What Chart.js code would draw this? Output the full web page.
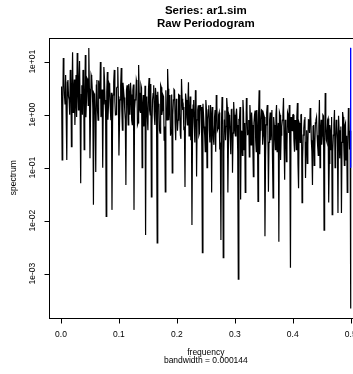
<!DOCTYPE html>
<html>
<head>
<meta charset="utf-8">
<title>Raw Periodogram</title>
<script src="https://cdn.jsdelivr.net/npm/chart.js@4.4.0/dist/chart.umd.min.js"></script>
<style>
  html, body { margin: 0; padding: 0; background: #fff; overflow: hidden; }
  #wrap { width: 353px; height: 374px; overflow: hidden; }
  canvas { display: block; }
</style>
</head>
<body>
<div id="wrap"><canvas id="pgram" width="370" height="374"></canvas></div>
<script>
// Periodograma: picos/vales nas frequências pares (0.002, 0.004, ... 0.5)
const freqStep = 0.002;
const spec = [
  0.14, 11.7, 2.35, 5.6, 0.14, 4.5, 1.9, 7.0, 0.25, 15,
  2.9, 0.64, 5.6, 14.6, 1.23, 10.3, 0.051, 3.6, 7.0, 0.22,
  13.4, 1.9, 4.5, 18.2, 0.15, 5.6, 2.9, 0.020, 2.35, 0.083,
  4.5, 0.79, 2.9, 9.9, 1.23, 0.10, 7.9, 1.9, 0.012, 6.4,
  1.52, 3.6, 0.79, 0.016, 2.35, 7.0, 0.99, 3.2, 7.9, 0.17,
  1.9, 7.6, 0.51, 2.9, 1.23, 0.047, 3.6, 0.64, 2.35, 4.0,
  0.79, 2.9, 0.016, 1.9, 4.5, 0.64, 8.7, 1.23, 3.6, 0.10,
  2.35, 0.79, 0.0054, 1.9, 0.51, 4.9, 0.99, 0.028, 1.9, 3.6,
  0.64, 2.35, 0.0038, 1.52, 0.51, 3.6, 0.99, 2.35, 0.33, 0.035,
  1.23, 7.3, 0.79, 2.35, 0.51, 0.080, 1.9, 2.9, 0.33, 1.52,
  0.79, 2.35, 0.41, 4.7, 1.23, 0.51, 0.043, 1.9, 0.64, 4.1,
  0.99, 0.33, 0.0083, 1.52, 0.64, 2.9, 0.068, 1.23, 0.41, 1.52,
  1.40, 0.0025, 0.99, 0.41, 1.9, 0.10, 1.23, 0.51, 1.52, 0.034,
  0.64, 0.27, 1.23, 2.35, 0.51, 0.99, 0.22, 0.0043, 2.16, 0.0020,
  0.79, 0.33, 2.07, 0.034, 0.99, 0.41, 1.23, 0.080, 1.74, 0.51,
  0.99, 0.64, 0.00079, 0.79, 0.025, 0.33, 1.9, 0.22, 0.034, 2.07,
  0.41, 0.79, 1.52, 0.27, 0.64, 0.068, 0.99, 0.33, 1.23, 0.023,
  2.9, 0.51, 1.23, 0.27, 0.99, 0.0051, 0.64, 1.52, 0.035, 0.79,
  0.33, 1.23, 0.027, 0.64, 0.22, 1.52, 0.51, 0.0040, 0.99, 0.41,
  0.79, 2.07, 0.059, 0.64, 0.27, 0.99, 1.52, 0.0013, 0.51, 0.99,
  0.33, 0.79, 0.22, 1.66, 0.041, 0.64, 0.99, 0.022, 0.41, 0.79,
  0.064, 0.51, 0.27, 0.79, 1.34, 0.33, 0.047, 0.64, 0.22, 0.79,
  0.41, 0.17, 1.9, 0.51, 0.27, 0.99, 0.0066, 2.56, 0.33, 0.79,
  0.022, 0.64, 0.22, 0.013, 0.41, 1.23, 0.22, 0.64, 0.014, 0.51,
  0.33, 0.014, 1.12, 0.27, 0.64, 0.14, 0.034, 1.34, 0.22, 0.00022
];
// Valores da faixa densa nas frequências ímpares (0.001, 0.003, ... 0.499)
const specBand = [
  3.4, 1.2, 5.2, 1.6, 0.95, 4.1, 2.2, 1.0, 5.5, 2.6,
  1.1, 4.6, 1.8, 0.9, 3.2, 5.0, 1.4, 2.4, 1.0, 4.3,
  2.0, 0.9, 4.8, 1.5, 3.1, 1.0, 5.0, 1.3, 2.5, 0.95,
  3.6, 1.2, 4.4, 2.0, 0.9, 3.0, 1.6, 4.9, 1.1, 2.7,
  0.8, 3.9, 1.4, 2.6, 0.75, 4.2, 1.8, 1.0, 3.3, 2.2,
  0.7, 3.6, 1.2, 4.0, 2.1, 0.8, 2.9, 1.5, 3.8, 1.0,
  2.4, 0.65, 3.7, 1.3, 2.0, 3.9, 0.7, 2.6, 1.1, 3.2,
  1.5, 0.6, 3.5, 2.2, 0.9, 3.0, 1.2, 3.8, 0.65, 2.5,
  1.0, 3.2, 0.5, 2.7, 1.6, 0.45, 3.3, 1.2, 2.2, 0.6,
  2.9, 0.8, 3.1, 1.4, 0.4, 2.4, 1.0, 3.0, 0.7, 2.0,
  0.5, 2.4, 1.1, 0.35, 2.0, 1.4, 0.6, 2.5, 0.9, 1.7,
  0.4, 2.2, 1.3, 0.5, 1.9, 0.3, 2.4, 0.8, 1.5, 0.45,
  1.2, 0.25, 1.6, 0.6, 0.2, 1.3, 0.8, 1.5, 0.3, 1.0,
  1.4, 0.35, 0.9, 0.2, 1.5, 0.55, 1.1, 0.25, 0.7, 1.3,
  0.2, 1.2, 0.6, 1.4, 0.3, 0.9, 0.18, 1.3, 0.45, 1.0,
  0.4, 1.3, 0.2, 0.8, 1.4, 0.5, 0.17, 1.1, 0.7, 0.3,
  1.2, 0.5, 0.16, 0.9, 1.1, 0.3, 0.7, 1.2, 0.2, 0.6,
  1.0, 0.18, 0.8, 1.2, 0.4, 0.9, 0.15, 1.1, 0.6, 0.3,
  1.1, 0.5, 0.15, 0.9, 0.35, 1.0, 0.2, 0.7, 1.1, 0.14,
  0.6, 1.0, 0.3, 0.8, 0.13, 1.1, 0.45, 0.2, 0.9, 0.5,
  1.0, 0.2, 0.6, 0.9, 0.12, 0.7, 0.3, 1.0, 0.15, 0.55,
  0.9, 0.3, 0.12, 0.8, 0.45, 1.0, 0.2, 0.6, 0.11, 0.7,
  0.9, 0.25, 0.6, 0.1, 0.8, 0.4, 0.95, 0.15, 0.7, 0.3,
  0.85, 0.12, 0.5, 0.9, 0.2, 0.65, 0.1, 0.8, 0.35, 0.95,
  0.15, 0.6, 0.3, 0.9, 0.11, 0.7, 0.4, 0.2, 0.8, 0.5
];

// Barra de confiança (azul) no canto direito
const ciFreq = [0.499856, 0.499856];
const ciLimits = [18.2, 0.1];

// Eixos
const xTicks = [0, 0.1, 0.2, 0.3, 0.4, 0.5];
const xTickLabels = ['0.0', '0.1', '0.2', '0.3', '0.4', '0.5'];
const yTicks = [1e-3, 1e-2, 1e-1, 1, 10];
const yTickLabels = ['1e-03', '1e-02', '1e-01', '1e+00', '1e+01'];

const FONT = '"Liberation Sans", Arial, Helvetica, sans-serif';

// Junta as duas listas na ordem das frequências
const points = [];
spec.forEach((v, k) => {
    points.push({ x: +(k * freqStep + freqStep / 2).toFixed(4), y: specBand[k] });
    points.push({ x: +((k + 1) * freqStep).toFixed(4), y: v });
});

// Desenha caixa, ticks e textos no estilo do R
const rStyleAxes = {
    id: 'rStyleAxes',
    afterDraw(chart) {
        const { ctx, chartArea: a, scales: { x, y } } = chart;
        const left = Math.round(a.left) + 0.5;
        const top = Math.round(a.top) + 0.5;
        const bottom = Math.round(a.bottom) + 0.5;
        const right = Math.round(a.right) + 0.5;
        const midX = (a.left + a.right) / 2;
        const midY = (a.top + a.bottom) / 2;

        ctx.save();
        ctx.strokeStyle = '#000';
        ctx.lineWidth = 1;
        ctx.strokeRect(left, top, right - left, bottom - top);

        // ticks do eixo x
        ctx.beginPath();
        xTicks.forEach(v => {
            const px = Math.round(x.getPixelForValue(v)) + 0.5;
            ctx.moveTo(px, bottom);
            ctx.lineTo(px, bottom + 5);
        });
        // ticks do eixo y
        yTicks.forEach(v => {
            const py = Math.round(y.getPixelForValue(v)) + 0.5;
            ctx.moveTo(left, py);
            ctx.lineTo(left - 5, py);
        });
        ctx.stroke();

        ctx.fillStyle = '#000';
        ctx.font = '8.5px ' + FONT;
        ctx.textAlign = 'center';
        ctx.textBaseline = 'middle';
        xTicks.forEach((v, i) => {
            ctx.fillText(xTickLabels[i], x.getPixelForValue(v), bottom + 16);
        });
        yTicks.forEach((v, i) => {
            ctx.save();
            ctx.translate(33, y.getPixelForValue(v));
            ctx.rotate(-Math.PI / 2);
            ctx.fillText(yTickLabels[i], 0, 0);
            ctx.restore();
        });

        // títulos dos eixos
        ctx.fillText('frequency', midX, 353);
        ctx.fillText('bandwidth = 0.000144', midX, 361);
        ctx.save();
        ctx.translate(14, midY);
        ctx.rotate(-Math.PI / 2);
        ctx.fillText('spectrum', 0, 0);
        ctx.restore();

        // título principal
        ctx.font = 'bold 11.5px ' + FONT;
        ctx.fillText('Series: ar1.sim', midX, 11);
        ctx.fillText('Raw Periodogram', midX, 24);
        ctx.restore();
    }
};

const ctx = document.getElementById('pgram').getContext('2d');
new Chart(ctx, {
    type: 'line',
    data: {
        datasets: [{
            label: 'periodogram',
            data: points,
            borderColor: '#000',
            borderWidth: 1.2,
            pointRadius: 0,
            tension: 0,
            order: 2
        }, {
            label: 'ci',
            data: ciFreq.map((f, i) => ({ x: f, y: ciLimits[i] })),
            borderColor: '#0000ff',
            borderWidth: 1,
            pointRadius: 0,
            order: 1
        }]
    },
    options: {
        responsive: false,
        animation: false,
        devicePixelRatio: 1,
        layout: { padding: { left: 49.4, right: 7.7, top: 37.5, bottom: 56 } },
        scales: {
            x: { type: 'linear', min: -0.02, max: 0.52, display: false },
            y: { type: 'logarithmic', min: 1.459e-4, max: 28.6, display: false }
        },
        plugins: {
            legend: { display: false },
            tooltip: { enabled: false },
            title: { display: false }
        }
    },
    plugins: [rStyleAxes]
});
</script>
</body>
</html>
